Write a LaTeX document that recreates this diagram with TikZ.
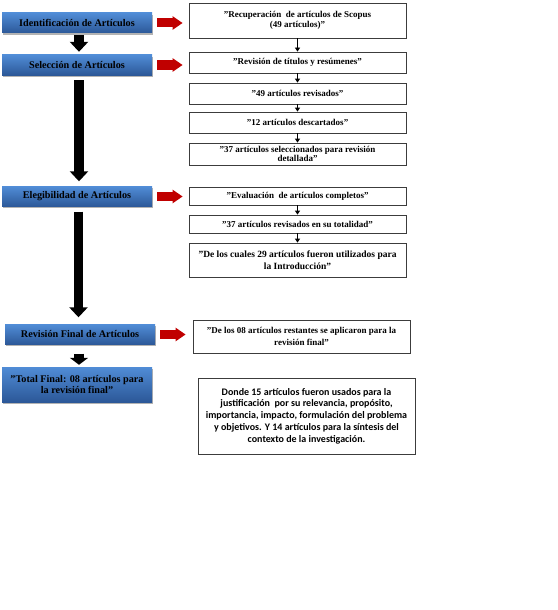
\documentclass[tikz,border=0pt]{standalone}
\usepackage{fontspec}
\setmainfont{Liberation Serif}
\newfontfamily\carlito{Carlito}
\usetikzlibrary{arrows.meta,shadows}
\definecolor{bluetop}{RGB}{80,140,214}
\definecolor{bluebot}{RGB}{44,88,152}
\definecolor{redarr}{RGB}{192,0,0}
\definecolor{boxline}{RGB}{60,60,60}
\newcommand\qq{\char34\relax}
\begin{document}
\begin{tikzpicture}[x=1pt,y=-1pt,
  phase/.style={top color=bluetop, bottom color=bluebot, minimum width=150pt,
    minimum height=20pt, inner sep=1pt, align=center,
    font=\bfseries\fontsize{10.2}{11}\selectfont,
    drop shadow={shadow xshift=0.5pt, shadow yshift=-1.8pt, fill=black!50, opacity=0.6}},
  stepbox/.style={draw=boxline, line width=0.8pt, fill=white, minimum width=217pt,
    inner sep=1pt, align=center, font=\bfseries\fontsize{9}{10.5}\selectfont},
  blockarrow/.style={line width=9.5pt, draw=black, -{Triangle[length=10pt,width=18pt]}},
  redarrow/.style={line width=9pt, draw=redarr, -{Triangle[length=10pt,width=13pt]}},
  smallarrow/.style={line width=0.8pt, draw=black, -{Triangle[length=4pt,width=5pt]}}
]
\useasboundingbox (0,0) rectangle (557,610);

% phase boxes
\node[phase] (ident)  at (77,23)   {Identificación de Artículos};
\node[phase] (selec)  at (77,65)   {Selección de Artículos};
\node[phase] (eleg)   at (77,196.5) {Elegibilidad de Artículos};
\node[phase] (revfin) at (80,334.5) {Revisión Final de Artículos};
\node[phase, minimum height=35pt] (total) at (77,384.5) {\qq Total Final: 08 artículos para\\ la revisión final\qq};

% step boxes
\node[stepbox, minimum height=35pt] (b1) at (297.5,20.5) {\qq Recuperación\ \ de artículos de Scopus\\ (49 artículos)\qq};
\node[stepbox, minimum height=21pt] (b2) at (297.5,62.5) {\qq Revisión de títulos y resúmenes\qq};
\node[stepbox, minimum height=21pt] (b3) at (297.5,93.5) {\qq 49 artículos revisados\qq};
\node[stepbox, minimum height=21pt] (b4) at (297.5,122.5) {\qq 12 artículos descartados\qq};
\node[stepbox, minimum height=22pt, font=\bfseries\fontsize{9}{9.5}\selectfont] (b5) at (297.5,154) {\qq 37 artículos seleccionados para revisión\\ detallada\qq};
\node[stepbox, minimum height=18pt] (b6) at (297.5,196) {\qq Evaluación\ \ de artículos completos\qq};
\node[stepbox, minimum height=18pt] (b7) at (297.5,224) {\qq 37 artículos revisados en su totalidad\qq};
\node[stepbox, minimum height=34pt, font=\bfseries\fontsize{9.5}{12}\selectfont] (b8) at (297.5,260) {\qq De los cuales 29 artículos fueron utilizados para\\ la Introducción\qq};
\node[stepbox, minimum height=33pt, font=\bfseries\fontsize{9}{12}\selectfont] (b9) at (301.5,336.5) {\qq De los 08 artículos restantes se aplicaron para la\\ revisión final\qq};
\node[stepbox, minimum height=76pt, font=\carlito\bfseries\fontsize{10}{11.7}\selectfont] (b10) at (306.5,416) {Donde 15 artículos fueron usados para la\\ justificación\ \ por su relevancia, propósito,\\ importancia, impacto, formulación del problema\\ y objetivos. Y 14 artículos para la síntesis del\\ contexto de la investigación.};

% black block arrows
\draw[blockarrow] ([xshift=2pt,yshift=-2pt]ident.south) -- ([xshift=2pt,yshift=3pt]selec.north);
\draw[blockarrow] ([xshift=2pt,yshift=-5pt]selec.south) -- ([xshift=2pt,yshift=5pt]eleg.north);
\coordinate (a3s) at ([xshift=1.5pt,yshift=-5pt]eleg.south);
\coordinate (a3e) at ([xshift=-1.5pt,yshift=7pt]revfin.north);
\draw[blockarrow] (a3s) -- (a3s |- a3e);
\draw[blockarrow, -{Triangle[length=7pt,width=18pt]}] ([xshift=-1pt,yshift=-9pt]revfin.south) -- ([xshift=2pt,yshift=2pt]total.north);

% red arrows
\draw[redarrow] ([xshift=5pt]ident.east) -- ([xshift=-6pt]b1.west |- ident.east);
\draw[redarrow] ([xshift=5pt]selec.east) -- ([xshift=-6pt]b2.west |- selec.east);
\draw[redarrow] ([xshift=5pt]eleg.east) -- ([xshift=-6pt]b6.west |- eleg.east);
\draw[redarrow] ([xshift=5pt]revfin.east) -- ([xshift=-7pt]b9.west |- revfin.east);

% small arrows
\draw[smallarrow] (b1) -- (b2);
\draw[smallarrow] (b2) -- (b3);
\draw[smallarrow] (b3) -- (b4);
\draw[smallarrow] (b4) -- (b5);
\draw[smallarrow] (b6) -- (b7);
\draw[smallarrow] (b7) -- (b8);
\end{tikzpicture}
\end{document}
